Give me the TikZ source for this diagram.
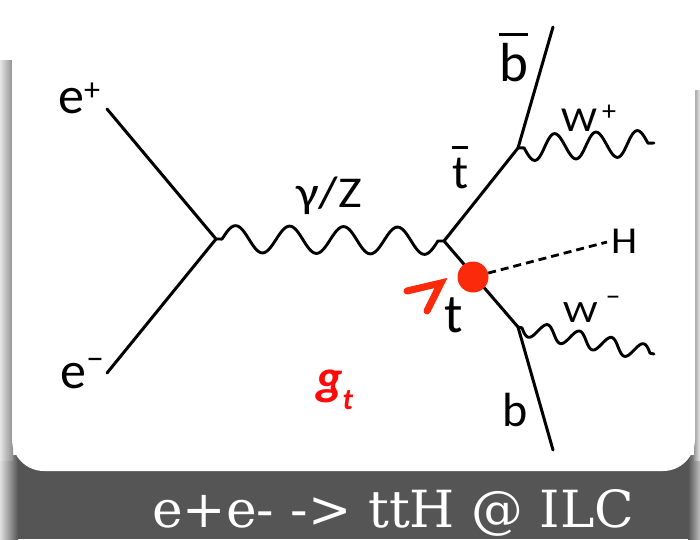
\documentclass[tikz,border=0pt]{standalone}
\usepackage{fontspec}
\setmainfont{Carlito}
\newfontfamily\bannerfont{DejaVu Serif}
\usetikzlibrary{calc}
\definecolor{banner}{HTML}{555555}
\definecolor{dotred}{HTML}{FB2A0A}
\definecolor{gred}{HTML}{FF0A0A}
\newcommand\supx[3]{\raisebox{#1}{\fontsize{#2}{#2}\selectfont #3}}
\newcommand\barover[3]{\leavevmode\vbox{\hrule height #2\kern #3\hbox{#1}}}
\newcommand\fsz[1]{\fontsize{#1}{#1}\selectfont}
% wavy boson line from named point #1 to named point #2:
% amplitude #3, number of half waves #4, straight lead #5
\newcommand\bosonwave[5]{%
  \path let \p1=($(#2)-(#1)$) in \pgfextra{%
    \pgfmathsetmacro\wvl{veclen(\x1,\y1)}%
    \pgfmathsetmacro\wva{atan2(\y1,\x1)}%
    \pgfmathsetmacro\wve{\wvl-#5}%
    \pgfmathsetmacro\wvd{\wvl-2*#5}%
    \global\let\wvL\wvl \global\let\wvA\wva
    \global\let\wvE\wve \global\let\wvD\wvd};
  \begin{scope}[shift={(#1)}, rotate=\wvA]
    \draw[boson] (0,0) -- plot[domain=#5:\wvE, samples=200, smooth]
      (\x, {#3*sin((\x-#5)/\wvD*180*#4)}) -- (\wvL,0);
  \end{scope}}
\begin{document}
\begin{tikzpicture}[x=1pt,y=-1pt,
  fermion/.style={line width=3pt, line cap=round},
  boson/.style={line width=2.9pt, line join=round, line cap=round},
  higgs/.style={line width=2.8pt, dash pattern=on 8pt off 5pt},
  lbl/.style={inner sep=0pt, anchor=base west}]
\useasboundingbox (0,0) rectangle (700,539);
% background, banner and shadows
\fill[white] (0,0) rectangle (700,539);
\fill[banner] (18,455) rectangle (688,539);
\shade[left color=black!12, right color=banner] (0,455) rectangle (18,539);
\shade[left color=banner, right color=black!25] (688,455) rectangle (700,539);
\shade[left color=black!10, right color=black!45] (0,60) rectangle (13,460);
\shade[left color=black!40, right color=black!8] (694,90) rectangle (700,460);
\fill[white, rounded corners=32pt] (12,-60) rectangle (695,471);
% caption
\node[lbl, text=white] (cap) at (152,527) {\bannerfont\resizebox{482pt}{38pt}{e+e- -> ttH @ ILC}};
% vertices and ends
\coordinate (ep) at (107,109);
\coordinate (em) at (107,373);
\coordinate (v1) at (216,239);
\coordinate (v2) at (444,241);
\coordinate (tb) at (518,148);
\coordinate (bbE) at (553,27);
\coordinate (wpE) at (654,143);
\coordinate (tt) at (518,327);
\coordinate (bE) at (553,450);
\coordinate (wmE) at (654,354);
\coordinate (hE) at (607,242);
% lines
\draw[fermion] (ep) -- (v1) -- (em);
\bosonwave{v1}{v2}{-13.5}{8}{6}
\draw[fermion] (bbE) -- (tb) -- (v2) -- (tt) -- (bE);
\bosonwave{tb}{wpE}{13}{6}{6}
\bosonwave{tt}{wmE}{8}{8}{4}
\node[circle, fill=dotred, minimum size=31pt, inner sep=0pt] (dot) at (473,277) {};
\draw[higgs] (dot) -- (hE);
\draw[dotred, line width=7pt, line cap=round, line join=miter] (407,291) -- (441,283) -- (427,311);
% labels
\node[lbl] (lep) at (58,113) {\fsz{52}e\supx{13pt}{32}{+}};
\node[lbl] (lem) at (60,388) {\fsz{52}e\supx{19pt}{36}{–}};
\node[lbl] (lgz) at (296,207) {\scalebox{1.15}[1]{\fsz{44}γ/Z}};
\node[lbl] (ltb) at (452,188) {\fsz{48}\barover{t}{2.8pt}{9pt}};
\node[lbl] (lbb) at (499,81) {\fsz{55}\barover{b}{2.8pt}{7pt}};
\node[lbl] (lwp) at (561,131) {\scalebox{1.15}[1]{\fsz{35}W}\hspace{5pt}\supx{11pt}{28}{+}};
\node[lbl] (lh) at (611,253) {\scalebox{1.1}[1]{\fsz{38}H}};
\node[lbl] (lwm) at (563,322) {\scalebox{1.25}[1]{\fsz{31}W}\hspace{8pt}\supx{17pt}{30}{–}};
\node[lbl] (lt) at (444,332) {\fsz{55}t};
\node[lbl] (lb) at (502,426) {\fsz{48}b};
\node[lbl, text=gred] (lg) at (316,394) {\fsz{50}\bfseries\itshape g\raisebox{-15pt}{\fsz{30}t}};
\end{tikzpicture}
\end{document}
